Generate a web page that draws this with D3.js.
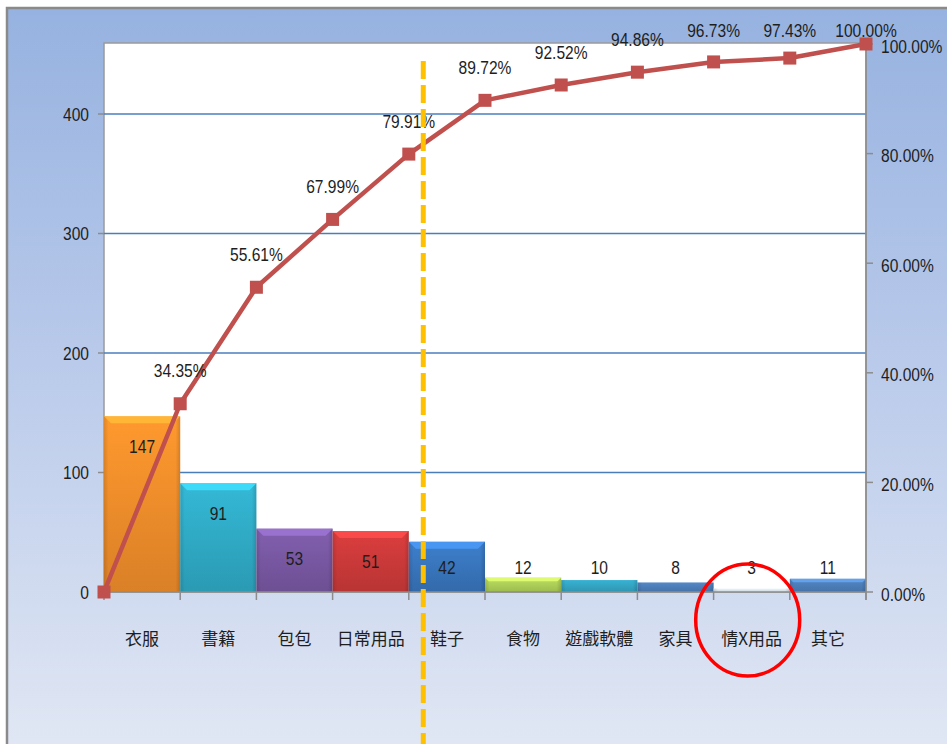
<!DOCTYPE html>
<html>
<head>
<meta charset="utf-8">
<script src="https://cdn.jsdelivr.net/npm/d3@7"></script>
<style>
  html, body { margin: 0; padding: 0; background: #ffffff; }
  svg { display: block; }
  .num { font-family: "Liberation Sans", Arial, sans-serif; font-size: 19px; fill: #1e1e1e; }
  .cat { font-family: "Noto Sans CJK TC", "Noto Sans CJK SC", sans-serif; font-size: 17px; fill: #1e1e1e; }
</style>
</head>
<body>
<script>
// ---- data ----
const categories = ["衣服", "書籍", "包包", "日常用品", "鞋子", "食物", "遊戲軟體", "家具", "情X用品", "其它"];
const counts = [147, 91, 53, 51, 42, 12, 10, 8, 3, 11];
const cumulativePercent = [0, 34.35, 55.61, 67.99, 79.91, 89.72, 92.52, 94.86, 96.73, 97.43, 100.00];
const leftTicks = [0, 100, 200, 300, 400];
const rightTicks = [0, 20, 40, 60, 80, 100];
const barColors = ["#f7912c", "#31afcb", "#7b5aa6", "#d13b3b", "#3a78c1", "#b2d45a", "#35a9c9", "#4f81bd", "#e4ecf7", "#4f81bd"];

const W = 947, H = 744;
const plot = { left: 104, right: 866, top: 44, bottom: 592 };
const NARROW = 0.82;

const svg = d3.select("body").append("svg").attr("width", W).attr("height", H);
const defs = svg.append("defs");

const bg = defs.append("linearGradient").attr("id", "bg").attr("x1", 0).attr("y1", 0).attr("x2", 0).attr("y2", 1);
bg.append("stop").attr("offset", "0%").attr("stop-color", "#96b2e0");
bg.append("stop").attr("offset", "45%").attr("stop-color", "#b8c9ea");
bg.append("stop").attr("offset", "100%").attr("stop-color", "#e2e8f4");

// frame
svg.append("rect").attr("x", 7).attr("y", 8).attr("width", W + 10).attr("height", H + 10)
  .attr("fill", "url(#bg)").attr("stroke", "#8a8a8a").attr("stroke-width", 2.5);

// scales
const x = d3.scaleBand().domain(categories).range([plot.left, plot.right]).padding(0);
const yL = d3.scaleLinear().domain([0, 458.6]).range([plot.bottom, plot.top]);
const yR = d3.scaleLinear().domain([0, 100]).range([plot.bottom, plot.top]);
const bw = x.bandwidth();
const boundaryX = i => plot.left + i * bw;

// narrow number text helper
function numText(sel, fx, fy, anchor, fmt) {
  return sel.attr("class", "num")
    .attr("transform", (d, i) => `translate(${fx(d, i)},${fy(d, i)}) scale(${NARROW},1)`)
    .attr("text-anchor", anchor).attr("dominant-baseline", "central")
    .text(fmt);
}

// plot area
svg.append("rect").attr("x", plot.left).attr("y", plot.top - 1)
  .attr("width", plot.right - plot.left).attr("height", plot.bottom - plot.top + 1)
  .attr("fill", "#ffffff").attr("stroke", "#9a9a9a").attr("stroke-width", 1.5);

// gridlines
svg.append("g").selectAll("line").data(leftTicks.filter(d => d > 0)).join("line")
  .attr("x1", plot.left).attr("x2", plot.right)
  .attr("y1", d => yL(d)).attr("y2", d => yL(d))
  .attr("stroke", "#4a7ebb").attr("stroke-width", 1.5);

// gradients for bars
barColors.forEach((c, i) => {
  const g = defs.append("linearGradient").attr("id", "bar" + i).attr("x1", 0).attr("y1", 0).attr("x2", 0).attr("y2", 1);
  const col = d3.color(c);
  g.append("stop").attr("offset", "0%").attr("stop-color", col.brighter(0.15));
  g.append("stop").attr("offset", "100%").attr("stop-color", col.darker(0.35));
  const h = defs.append("linearGradient").attr("id", "side" + i).attr("x1", 0).attr("y1", 0).attr("x2", 1).attr("y2", 0);
  h.append("stop").attr("offset", "0%").attr("stop-color", "#000").attr("stop-opacity", 0.12);
  h.append("stop").attr("offset", "6%").attr("stop-color", "#000").attr("stop-opacity", 0);
  h.append("stop").attr("offset", "94%").attr("stop-color", "#000").attr("stop-opacity", 0);
  h.append("stop").attr("offset", "100%").attr("stop-color", "#000").attr("stop-opacity", 0.15);
});

// bars
const bars = svg.append("g");
categories.forEach((cat, i) => {
  const x0 = x(cat), top = yL(counts[i]), h = plot.bottom - top;
  bars.append("rect").attr("x", x0).attr("y", top).attr("width", bw).attr("height", h)
    .attr("fill", `url(#bar${i})`);
  bars.append("rect").attr("x", x0).attr("y", top).attr("width", bw).attr("height", h)
    .attr("fill", `url(#side${i})`);
  if (h > 12) {
    const b = Math.min(7, h / 4);
    const light = d3.color(barColors[i]).brighter(0.7);
    bars.append("path")
      .attr("d", `M${x0},${top}L${x0 + bw},${top}L${x0 + bw - b},${top + b}L${x0 + b},${top + b}Z`)
      .attr("fill", light).attr("opacity", 0.85);
  }
});

// bar labels
numText(svg.append("g").selectAll("text").data(counts).join("text"),
  (d, i) => x(categories[i]) + bw / 2, d => Math.min(yL(d) + 30, 567), "middle", d => d);

// axis lines and ticks
const axisG = svg.append("g").attr("stroke", "#8c8c8c").attr("stroke-width", 1.5);
axisG.append("line").attr("x1", plot.left).attr("x2", plot.right).attr("y1", plot.bottom).attr("y2", plot.bottom);
axisG.append("line").attr("x1", plot.right).attr("x2", plot.right).attr("y1", plot.top).attr("y2", plot.bottom + 8);
axisG.selectAll(".lt").data(leftTicks).join("line").attr("class", "lt")
  .attr("x1", plot.left - 6).attr("x2", plot.left).attr("y1", d => yL(d)).attr("y2", d => yL(d));
axisG.selectAll(".rt").data(rightTicks).join("line").attr("class", "rt")
  .attr("x1", plot.right).attr("x2", plot.right + 7).attr("y1", d => yR(d)).attr("y2", d => yR(d));
axisG.selectAll(".bt").data(d3.range(categories.length + 1)).join("line").attr("class", "bt")
  .attr("x1", i => boundaryX(i)).attr("x2", i => boundaryX(i))
  .attr("y1", plot.bottom).attr("y2", plot.bottom + 8);

// axis labels
numText(svg.append("g").selectAll("text").data(leftTicks).join("text"),
  () => 89, d => yL(d), "end", d => d);
numText(svg.append("g").selectAll("text").data(rightTicks).join("text"),
  () => 881, d => yR(d) + 2, "start", d => d.toFixed(2) + "%");
svg.append("g").selectAll("text").data(categories).join("text")
  .attr("class", "cat").attr("x", d => x(d) + bw / 2).attr("y", 637)
  .attr("text-anchor", "middle").attr("dominant-baseline", "central").text(d => d);

// cumulative line
const pts = cumulativePercent.map((p, i) => [boundaryX(i), yR(p)]);
svg.append("path").attr("d", d3.line()(pts))
  .attr("fill", "none").attr("stroke", "#c0504d").attr("stroke-width", 4.5).attr("stroke-linejoin", "round");
svg.append("g").selectAll("rect").data(pts).join("rect")
  .attr("x", d => d[0] - 6.5).attr("y", d => d[1] - 6.5).attr("width", 13).attr("height", 13)
  .attr("fill", "#c0504d");

// percent labels
numText(svg.append("g").selectAll("text").data(cumulativePercent.slice(1)).join("text"),
  (d, i) => boundaryX(i + 1), d => Math.max(yR(d) - 33, 30), "middle", d => d.toFixed(2) + "%");

// annotation: dashed vertical line near 80%
const dashX = boundaryX(4) + 0.19 * bw;
svg.append("line").attr("x1", dashX).attr("x2", dashX).attr("y1", 61).attr("y2", H)
  .attr("stroke", "#ffc000").attr("stroke-width", 5).attr("stroke-dasharray", "18 6");

// annotation: red circle around 情X用品
const cx = x("情X用品") + bw / 2 - 4;
svg.append("ellipse").attr("cx", cx).attr("cy", 620).attr("rx", 52).attr("ry", 56)
  .attr("fill", "none").attr("stroke", "#ff0000").attr("stroke-width", 3.5);
</script>
</body>
</html>
